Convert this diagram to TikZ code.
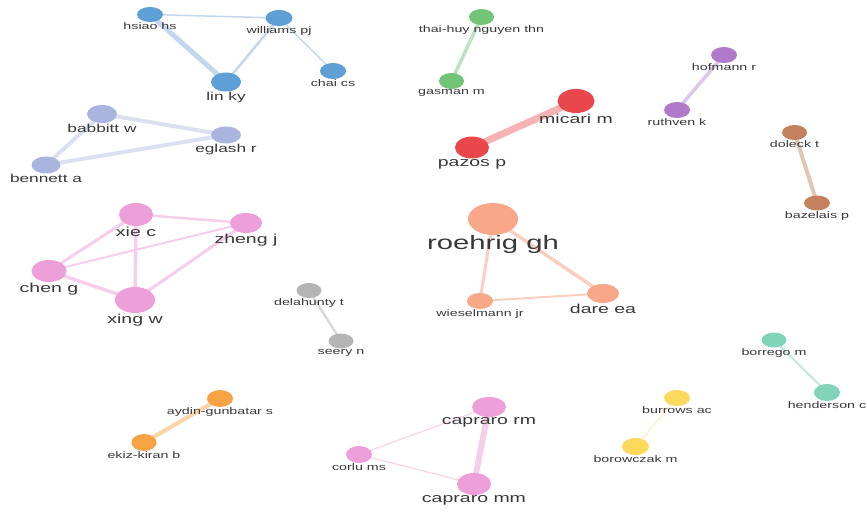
\documentclass[tikz,border=0pt]{standalone}
\usepackage{fontspec}
\usetikzlibrary{shapes.geometric,backgrounds}
\newfontfamily\lblfont[FakeStretch=1.5]{Liberation Sans}
\definecolor{txt}{HTML}{383838}
\definecolor{cblue}{HTML}{5E9FD6}\definecolor{eblue}{HTML}{C3D8EE}
\definecolor{clav}{HTML}{A9B4DF}\definecolor{elav}{HTML}{DCE1F2}
\definecolor{cgreen}{HTML}{72C476}\definecolor{egreen}{HTML}{BCE3BE}
\definecolor{cred}{HTML}{E8474C}\definecolor{ered}{HTML}{F5B3B3}
\definecolor{cpurp}{HTML}{B07ACB}\definecolor{epurp}{HTML}{DDC6E9}
\definecolor{cbrown}{HTML}{C3825D}\definecolor{ebrown}{HTML}{E2C6B4}
\definecolor{cpink}{HTML}{EC9FD8}\definecolor{epink}{HTML}{F6CDEA}
\definecolor{cgray}{HTML}{B5B5B5}\definecolor{egray}{HTML}{D9D9D9}
\definecolor{csalm}{HTML}{F8A789}\definecolor{esalm}{HTML}{FBCFBF}
\definecolor{cteal}{HTML}{82D4B8}\definecolor{eteal}{HTML}{C0E9DB}
\definecolor{corange}{HTML}{F7A243}\definecolor{eorange}{HTML}{FBD3A5}
\definecolor{cyell}{HTML}{FAD95B}\definecolor{eyell}{HTML}{FCEEB5}
\tikzset{
  nd/.style 2 args={ellipse, draw=none, inner sep=0pt, minimum width=#1pt, minimum height=#2pt},
  lS/.style={text=txt, inner sep=0.3pt, font=\lblfont\fontsize{9.5}{10}\selectfont},
  lM/.style={text=txt, inner sep=0.3pt, font=\lblfont\fontsize{11.5}{12}\selectfont},
  lL/.style={text=txt, inner sep=0.3pt, font=\lblfont\fontsize{13}{14}\selectfont},
  lX/.style={text=txt, inner sep=0.3pt, font=\lblfont\fontsize{19.5}{20}\selectfont},
  ed/.style={line cap=butt}
}
\begin{document}
\begin{tikzpicture}[x=1pt,y=-1pt]
\useasboundingbox (0,0) rectangle (867,513);
% blue
\node[nd={26}{15}, fill=cblue, label={[lS]below:hsiao hs}] (hsiao) at (150,14.5) {};
\node[nd={27}{16}, fill=cblue, label={[lS]below:williams pj}] (williams) at (279,18) {};
\node[nd={30}{19}, fill=cblue, label={[lM]below:lin ky}] (lin) at (226,82) {};
\node[nd={26}{16}, fill=cblue, label={[lS]below:chai cs}] (chai) at (333,71) {};
% lavender
\node[nd={30}{18}, fill=clav, label={[lM]below:babbitt w}] (babbitt) at (102,114) {};
\node[nd={30}{17}, fill=clav, label={[lM]below:eglash r}] (eglash) at (226,135) {};
\node[nd={29}{17}, fill=clav, label={[lM]below:bennett a}] (bennett) at (46,165) {};
% green
\node[nd={25}{16}, fill=cgreen, label={[lS]below:thai-huy nguyen thn}] (thai) at (481.5,17) {};
\node[nd={25}{16}, fill=cgreen, label={[lS]below:gasman m}] (gasman) at (451.5,81) {};
% red
\node[nd={37}{24}, fill=cred, label={[lL]below:micari m}] (micari) at (576,101) {};
\node[nd={34}{22}, fill=cred, label={[lL]below:pazos p}] (pazos) at (472,147.5) {};
% purple
\node[nd={26}{16}, fill=cpurp, label={[lS]below:hofmann r}] (hofmann) at (724,55) {};
\node[nd={26}{16}, fill=cpurp, label={[lS]below:ruthven k}] (ruthven) at (677,110) {};
% brown
\node[nd={25}{15}, fill=cbrown, label={[lS]below:doleck t}] (doleck) at (794.5,132.5) {};
\node[nd={26}{15}, fill=cbrown, label={[lS]below:bazelais p}] (bazelais) at (817,203) {};
% pink cluster
\node[nd={34}{23}, fill=cpink, label={[lL]below:xie c}] (xie) at (136,214.5) {};
\node[nd={32}{20}, fill=cpink, label={[lL]below:zheng j}] (zheng) at (246,223) {};
\node[nd={35}{22}, fill=cpink, label={[lL]below:chen g}] (chen) at (49,271) {};
\node[nd={40}{26}, fill=cpink, label={[lL]below:xing w}] (xing) at (135,300) {};
% gray
\node[nd={25}{15}, fill=cgray, label={[lS]below:delahunty t}] (delahunty) at (309,290.5) {};
\node[nd={25}{15}, fill=cgray, label={[lS]below:seery n}] (seery) at (341,341) {};
% salmon
\node[nd={50}{32}, fill=csalm, label={[lX]below:roehrig gh}] (roehrig) at (493,219) {};
\node[nd={26}{16}, fill=csalm, label={[lS]below:wieselmann jr}] (wieselmann) at (480,301) {};
\node[nd={32}{19}, fill=csalm, label={[lL]below:dare ea}] (dare) at (603,293.5) {};
% teal
\node[nd={25}{15}, fill=cteal, label={[lS]below:borrego m}] (borrego) at (774,340) {};
\node[nd={26}{17}, fill=cteal, label={[lS]below:henderson c}] (henderson) at (827,392.5) {};
% orange
\node[nd={26}{17}, fill=corange, label={[lS]below:aydin-gunbatar s}] (aydin) at (220,398.5) {};
\node[nd={25}{17}, fill=corange, label={[lS]below:ekiz-kiran b}] (ekiz) at (144,442.5) {};
% pink capraro
\node[nd={26}{17}, fill=cpink, label={[lS]below:corlu ms}] (corlu) at (359,454.5) {};
\node[nd={34}{20}, fill=cpink, label={[lL]below:capraro rm}] (caprm) at (489,407) {};
\node[nd={34}{22}, fill=cpink, label={[lL]below:capraro mm}] (capmm) at (474,484) {};
% yellow
\node[nd={26}{16}, fill=cyell, label={[lS]below:burrows ac}] (burrows) at (677,398) {};
\node[nd={27}{17}, fill=cyell, label={[lS]below:borowczak m}] (borowczak) at (635.5,446.5) {};
\begin{scope}[on background layer]
\draw[ed, eblue, line width=5pt] (hsiao.center) -- (lin.center);
\draw[ed, eblue, line width=1.5pt] (hsiao.center) -- (williams.center);
\draw[ed, eblue, line width=2.5pt] (williams.center) -- (lin.center);
\draw[ed, eblue, line width=1.5pt] (williams.center) -- (chai.center);
\draw[ed, elav, line width=4pt] (babbitt.center) -- (eglash.center);
\draw[ed, elav, line width=4pt] (babbitt.center) -- (bennett.center);
\draw[ed, elav, line width=4pt] (bennett.center) -- (eglash.center);
\draw[ed, egreen, line width=3.5pt] (thai.center) -- (gasman.center);
\draw[ed, ered, line width=7pt] (micari.center) -- (pazos.center);
\draw[ed, epurp, line width=3.5pt] (hofmann.center) -- (ruthven.center);
\draw[ed, ebrown, line width=4pt] (doleck.center) -- (bazelais.center);
\draw[ed, epink, line width=2.5pt] (xie.center) -- (zheng.center);
\draw[ed, epink, line width=3pt] (xie.center) -- (chen.center);
\draw[ed, epink, line width=3.5pt] (xie.center) -- (xing.center);
\draw[ed, epink, line width=2pt] (zheng.center) -- (chen.center);
\draw[ed, epink, line width=3pt] (zheng.center) -- (xing.center);
\draw[ed, epink, line width=3.5pt] (chen.center) -- (xing.center);
\draw[ed, egray, line width=2.5pt] (delahunty.center) -- (seery.center);
\draw[ed, esalm, line width=3pt] (roehrig.center) -- (wieselmann.center);
\draw[ed, esalm, line width=3.5pt] (roehrig.center) -- (dare.center);
\draw[ed, esalm, line width=2pt] (wieselmann.center) -- (dare.center);
\draw[ed, eteal, line width=2pt] (borrego.center) -- (henderson.center);
\draw[ed, eorange, line width=4pt] (aydin.center) -- (ekiz.center);
\draw[ed, epink, line width=1pt] (corlu.center) -- (caprm.center);
\draw[ed, epink, line width=1pt] (corlu.center) -- (capmm.center);
\draw[ed, epink, line width=6pt] (caprm.center) -- (capmm.center);
\draw[ed, eyell, line width=1pt] (burrows.center) -- (borowczak.center);
\end{scope}
\end{tikzpicture}
\end{document}
